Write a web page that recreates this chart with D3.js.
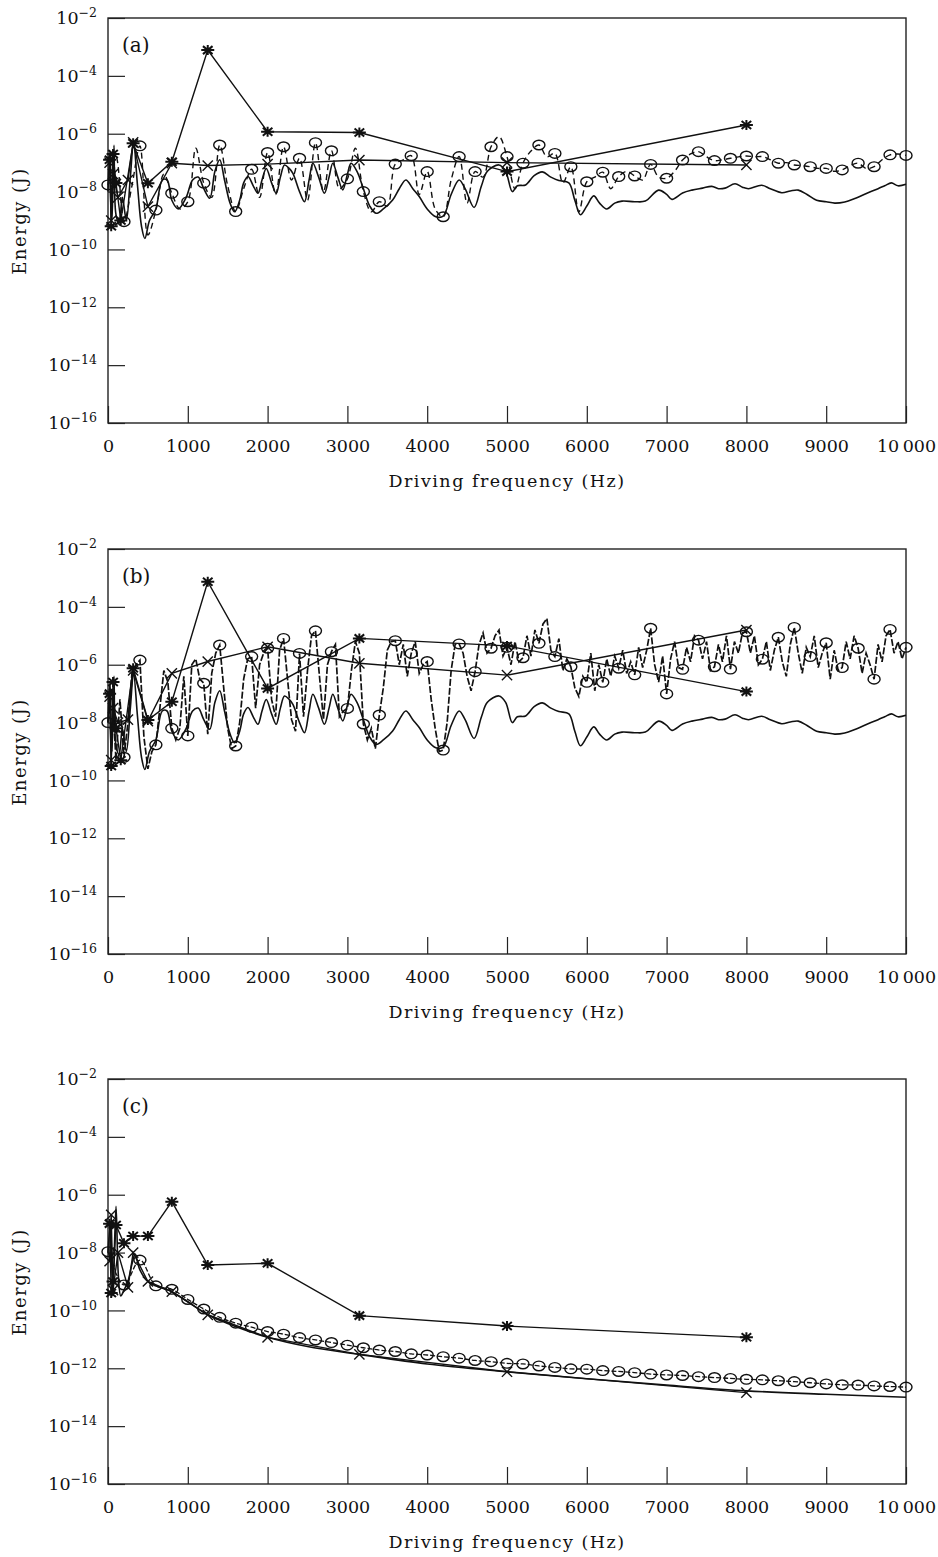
<!DOCTYPE html>
<html>
<head>
<meta charset="utf-8">
<script src="https://cdn.jsdelivr.net/npm/d3@7"></script>
<style>
  body { margin: 0; background: #fff; }
  svg { display: block; }
  text { font-family: "DejaVu Serif", "Liberation Serif", serif; fill: #111; }
</style>
</head>
<body>
<div id="chart"></div>
<script>
// all energies are stored as log10(E / J)

// solid curve, same in (a) and (b)
const solidFreqAB = [0, 25, 50, 75, 100, 140, 180, 230, 280, 320, 370, 420, 462, 520, 600, 680, 740, 800, 880, 980,
  1060, 1130, 1200, 1275, 1340, 1400, 1460, 1530, 1587, 1650, 1700, 1754, 1820, 1879, 1930, 1983, 2050, 2108, 2160, 2212,
  2270, 2317, 2400, 2462, 2520, 2567, 2640, 2712, 2770, 2817, 2880, 2942, 3000, 3046, 3120, 3192, 3280, 3358, 3450, 3567,
  3650, 3733, 3820, 3900, 4000, 4108, 4200, 4300, 4400, 4475, 4587, 4680, 4754, 4900, 4983, 5067, 5129, 5233, 5340, 5442,
  5550, 5650, 5775, 5850, 5920, 6000, 6087, 6160, 6250, 6350, 6442, 6600, 6733, 6900, 7000, 7067, 7200, 7317, 7450, 7567,
  7650, 7733, 7858, 7950, 8025, 8192, 8300, 8442, 8550, 8650, 8760, 8880, 9000, 9108, 9233, 9350, 9525, 9650, 9733, 9817,
  9900, 10000];
const solidAB = [-8.0, -6.6, -9.0, -6.4, -8.8, -9.1, -8.2, -9.0, -7.5, -6.3, -7.8, -9.2, -9.62, -9.0, -8.6, -7.6, -7.6, -8.3, -8.6, -8.2,
  -7.6, -7.5, -7.9, -8.23, -7.3, -6.9, -7.6, -8.4, -8.7, -8.3, -7.7, -7.48, -7.8, -8.06, -7.6, -7.2, -7.7, -8.06, -7.5, -7.08,
  -7.2, -7.37, -8.0, -8.35, -7.6, -7.02, -7.5, -8.06, -7.5, -7.02, -7.5, -7.94, -7.4, -7.02, -7.3, -7.83, -8.5, -8.75, -8.6, -8.29,
  -7.9, -7.6, -7.9, -8.17, -8.6, -8.87, -8.85, -8.1, -7.6, -7.9, -8.55, -7.8, -7.3, -7.08, -7.3, -8.0, -7.8, -7.77, -7.45, -7.32,
  -7.5, -7.62, -7.7, -8.3, -8.8, -8.5, -8.15, -8.4, -8.6, -8.4, -8.33, -8.35, -8.33, -7.95, -8.1, -8.27, -8.05, -7.95, -7.88, -7.82,
  -7.9, -7.88, -7.73, -7.85, -7.9, -7.78, -7.9, -8.04, -7.98, -7.95, -8.1, -8.3, -8.35, -8.4, -8.36, -8.25, -8.04, -7.9, -7.8, -7.7,
  -7.8, -7.75];

// dashed curve (a), every 100 Hz; the circles sit on its 200 Hz samples
const dashStepA = 100;
const dashA = [-7.77, -6.8, -9.04, -7.8, -6.42, -9.5, -8.64, -7.4, -8.06, -8.6,
  -8.35, -6.5, -7.71, -8.2, -6.39, -7.8, -8.69, -7.9, -7.23, -8.2,
  -6.65, -8.1, -6.45, -7.6, -6.85, -8.3, -6.31, -8.0, -6.59, -7.9,
  -7.56, -6.5, -8.0, -8.7, -8.35, -8.5, -7.05, -6.9, -6.76, -8.1,
  -7.31, -8.6, -8.87, -7.6, -6.79, -8.4, -7.31, -7.5, -6.45, -6.1,
  -6.79, -7.9, -7.02, -6.6, -6.39, -6.8, -6.68, -7.7, -7.14, -8.7,
  -7.66, -7.5, -7.33, -7.9, -7.48, -7.3, -7.46, -7.6, -7.06, -7.5,
  -7.54, -7.3, -6.91, -6.7, -6.62, -6.8, -6.93, -6.9, -6.85, -6.8,
  -6.77, -6.8, -6.79, -6.9, -7.02, -7.0, -7.08, -7.1, -7.14, -7.2,
  -7.20, -7.3, -7.25, -7.1, -7.02, -7.2, -7.14, -6.9, -6.73, -6.7,
  -6.75];

// dashed curve (b), every 50 Hz
const dashStepB = 50;
const dashB = [-8.0, -6.8, -9.3, -7.2, -9.2, -8.0, -6.3, -6.0, -5.84, -8.5,
  -9.6, -9.0, -8.77, -7.5, -6.2, -6.6, -8.20, -8.6, -8.2, -6.4,
  -8.46, -6.0, -5.8, -6.5, -6.64, -8.4, -6.3, -5.6, -5.32, -6.8,
  -8.2, -8.9, -8.81, -8.0, -6.5, -5.8, -5.72, -7.5, -6.0, -5.6,
  -5.43, -7.2, -7.8, -5.5, -5.09, -6.5, -7.9, -8.3, -5.61, -7.8,
  -6.2, -5.0, -4.83, -6.4, -7.9, -6.0, -5.55, -5.3, -7.8, -7.6,
  -7.51, -6.2, -5.2, -5.6, -8.05, -8.6, -8.2, -8.9, -7.74, -6.8,
  -5.5, -5.2, -5.17, -6.0, -5.3, -6.4, -5.61, -5.2, -6.3, -6.0,
  -5.89, -7.2, -8.2, -9.0, -8.95, -8.0, -6.2, -5.3, -5.28, -5.6,
  -6.4, -6.9, -6.24, -5.3, -4.9, -5.6, -5.43, -5.0, -4.8, -5.7,
  -5.40, -6.0, -5.2, -5.9, -5.76, -5.0, -5.7, -4.8, -5.26, -4.6,
  -4.4, -5.5, -5.72, -5.1, -6.2, -5.8, -6.07, -6.8, -7.1, -6.4,
  -6.61, -5.6, -6.9, -6.0, -6.61, -5.8, -6.4, -5.7, -6.12, -5.5,
  -6.3, -5.9, -6.35, -5.4, -6.1, -5.5, -4.74, -6.0, -6.6, -5.7,
  -7.01, -5.8, -5.2, -6.1, -6.16, -5.4, -5.9, -5.0, -5.15, -5.8,
  -5.2, -6.2, -6.07, -5.3, -5.9, -5.0, -6.15, -5.2, -5.6, -4.9,
  -4.86, -5.6, -5.0, -6.0, -5.81, -5.2, -6.2, -5.5, -5.05, -5.9,
  -6.4, -5.3, -4.71, -5.6, -6.3, -5.4, -5.72, -5.0, -6.1, -5.6,
  -5.24, -6.5, -5.5, -6.2, -6.10, -5.2, -5.8, -5.0, -5.43, -6.3,
  -5.6, -6.0, -6.50, -5.3, -5.9, -5.0, -4.78, -5.6, -5.2, -5.8,
  -5.4];

// panel (c): solid curve and the circle curve (every 200 Hz)
const solidFreqC = [0, 30, 60, 100, 130, 160, 200, 250, 300, 340, 400, 500, 600, 700, 800, 1000, 1250, 1500,
  2000, 2500, 3150, 4000, 5000, 6000, 7000, 8000, 9000, 10000];
const solidC = [-8.0, -7.0, -9.5, -6.4, -8.8, -9.5, -9.3, -9.0, -8.4, -8.05, -8.6, -9.0, -9.15, -9.25, -9.35, -9.7, -10.15, -10.45,
  -10.93, -11.25, -11.52, -11.85, -12.12, -12.36, -12.58, -12.78, -12.9, -13.0];
const dashStepC = 200;
const dashC = [-7.97, -9.12, -8.26, -9.15, -9.27, -9.62, -9.95, -10.24, -10.44, -10.58,
  -10.73, -10.82, -10.94, -11.02, -11.11, -11.20, -11.29, -11.37, -11.42, -11.50,
  -11.54, -11.60, -11.65, -11.73, -11.77, -11.83, -11.85, -11.92, -11.97, -12.02,
  -12.03, -12.08, -12.11, -12.15, -12.20, -12.23, -12.25, -12.29, -12.32, -12.35,
  -12.38, -12.40, -12.43, -12.46, -12.50, -12.54, -12.57, -12.58, -12.61, -12.63,
  -12.65];

// band values marked with asterisks and crosses
const starFreqAB = [20, 40, 63, 100, 160, 315, 500, 800, 1250, 2000, 3150, 5000, 8000];
const starA = [-6.9, -9.2, -6.7, -7.7, -9.0, -6.33, -7.71, -6.97, -3.11, -5.93, -5.96, -7.31, -5.70];
const starB = [-7.0, -9.5, -6.6, -8.2, -9.3, -6.12, -7.91, -7.28, -3.13, -6.82, -5.09, -5.35, -6.93];
const starFreqC = [20, 40, 63, 100, 200, 315, 500, 800, 1250, 2000, 3150, 5000, 8000];
const starC = [-7.0, -9.4, -9.0, -7.05, -7.68, -7.43, -7.43, -6.24, -8.43, -8.37, -10.18, -10.54, -10.93];

const crossFreq = [20, 40, 63, 125, 250, 315, 500, 800, 1250, 2000, 3150, 5000, 8000];
const crossA = [-7.0, -9.0, -7.4, -8.2, -7.6, -6.3, -8.52, -7.02, -7.10, -7.05, -6.91, -7.0, -7.08];
const crossB = [-7.1, -9.3, -7.5, -8.0, -7.9, -6.2, -7.95, -6.30, -5.89, -5.38, -5.95, -6.36, -4.80];
const crossC = [-8.3, -6.7, -9.3, -8.0, -9.2, -8.0, -9.0, -9.35, -10.15, -10.93, -11.52, -12.12, -12.84];

const xTicks = [0, 1000, 2000, 3000, 4000, 5000, 6000, 7000, 8000, 9000, 10000];
const yExps = [-2, -4, -6, -8, -10, -12, -14, -16];

const W = 938, H = 1557;
const left = 108, right = 906, plotH = 405;

const svg = d3.select("#chart").append("svg")
  .attr("width", W).attr("height", H);

const x = d3.scaleLinear().domain([0, 10000]).range([left, right]);

function zipF(freqs, vals) {
  return freqs.map((f, i) => ({ f: f, e: vals[i] }));
}
function grid(step, vals) {
  return vals.map((v, i) => ({ f: i * step, e: v }));
}

const starPath = "M-6.5,0H6.5M0,-5V5M-4.8,-4L4.8,4M-4.8,4L4.8,-4";
const crossSym = d3.symbol().type(d3.symbolTimes).size(70);

function drawPanel(cfg) {
  const top = cfg.top;
  const y = d3.scaleLog().domain([1e-16, 1e-2]).range([top + plotH, top]);
  const g = svg.append("g");
  const px = d => x(d.f), py = d => y(Math.pow(10, d.e));
  const line = d3.line().x(px).y(py);
  const smooth = d3.line().x(px).y(py).curve(d3.curveCatmullRom.alpha(0.5));

  // axes: ticks point inwards
  g.append("g")
    .attr("transform", `translate(0,${top + plotH})`)
    .call(d3.axisBottom(x).tickValues(xTicks).tickSize(-17).tickPadding(17)
      .tickFormat(d => d === 10000 ? "10\u2009000" : d))
    .call(a => a.select(".domain").remove())
    .call(a => a.selectAll("line").attr("stroke", "#222").attr("stroke-width", 1.2))
    .call(a => a.selectAll("text").attr("font-size", 17.5).attr("font-family", "DejaVu Serif").attr("fill", "#111"));

  const yAx = g.append("g")
    .attr("transform", `translate(${left},0)`)
    .call(d3.axisLeft(y).tickValues(yExps.map(e => Math.pow(10, e))).tickSize(-17).tickPadding(11))
    .call(a => a.select(".domain").remove())
    .call(a => a.selectAll("line").attr("stroke", "#222").attr("stroke-width", 1.2));
  yAx.selectAll(".tick text").each(function(d, i) {
    const t = d3.select(this).text(null).attr("font-size", 17.5)
      .attr("font-family", "DejaVu Serif").attr("fill", "#111");
    t.append("tspan").text("10");
    t.append("tspan").attr("dy", "-0.55em").attr("font-size", 12.5).text("\u2212" + (-yExps[i]));
  });

  g.append("rect")
    .attr("x", left).attr("y", top).attr("width", right - left).attr("height", plotH)
    .attr("fill", "none").attr("stroke", "#222").attr("stroke-width", 1.4);

  g.append("text")
    .attr("x", left + 14).attr("y", top + 34)
    .attr("font-size", 20).text(cfg.label);

  g.append("text")
    .attr("x", (left + right) / 2).attr("y", top + plotH + 64)
    .attr("text-anchor", "middle").attr("font-size", 17.5).attr("letter-spacing", 1.5)
    .text("Driving frequency (Hz)");

  g.append("text")
    .attr("transform", `translate(26,${top + 203}) rotate(-90)`)
    .attr("text-anchor", "middle").attr("font-size", 18).attr("letter-spacing", 1.5)
    .text("Energy (J)");

  // curves
  g.append("path").datum(cfg.solid)
    .attr("d", smooth).attr("fill", "none").attr("stroke", "#111").attr("stroke-width", 1.6);
  g.append("path").datum(cfg.dash)
    .attr("d", cfg.dashSmooth ? smooth : line).attr("fill", "none").attr("stroke", "#111")
    .attr("stroke-width", cfg.dashWidth).attr("stroke-dasharray", cfg.dashArray);

  const circ = cfg.dash.filter(d => d.f % 200 === 0);
  g.append("g").selectAll("ellipse").data(circ).join("ellipse")
    .attr("cx", px).attr("cy", py)
    .attr("rx", 6).attr("ry", 4.8)
    .attr("fill", "none").attr("stroke", "#111").attr("stroke-width", 1.4);

  g.append("path").datum(cfg.cross)
    .attr("d", line).attr("fill", "none").attr("stroke", "#111").attr("stroke-width", 1.4);
  g.append("g").selectAll("path").data(cfg.cross).join("path")
    .attr("transform", d => `translate(${px(d)},${py(d)})`)
    .attr("d", crossSym).attr("fill", "none").attr("stroke", "#111").attr("stroke-width", 1.4);

  g.append("path").datum(cfg.star)
    .attr("d", line).attr("fill", "none").attr("stroke", "#111").attr("stroke-width", 1.4);
  g.append("g").selectAll("path").data(cfg.star).join("path")
    .attr("transform", d => `translate(${px(d)},${py(d)})`)
    .attr("d", starPath).attr("fill", "none").attr("stroke", "#111").attr("stroke-width", 2);
}

drawPanel({
  top: 18, label: "(a)",
  solid: zipF(solidFreqAB, solidAB), dash: grid(dashStepA, dashA),
  dashArray: "6,4", dashWidth: 1.4, dashSmooth: true,
  star: zipF(starFreqAB, starA), cross: zipF(crossFreq, crossA)
});
drawPanel({
  top: 549, label: "(b)",
  solid: zipF(solidFreqAB, solidAB), dash: grid(dashStepB, dashB),
  dashArray: "7,2", dashWidth: 1.7, dashSmooth: false,
  star: zipF(starFreqAB, starB), cross: zipF(crossFreq, crossB)
});
drawPanel({
  top: 1079, label: "(c)",
  solid: zipF(solidFreqC, solidC), dash: grid(dashStepC, dashC),
  dashArray: "5,2", dashWidth: 1.3, dashSmooth: true,
  star: zipF(starFreqC, starC), cross: zipF(crossFreq, crossC)
});
</script>
</body>
</html>
